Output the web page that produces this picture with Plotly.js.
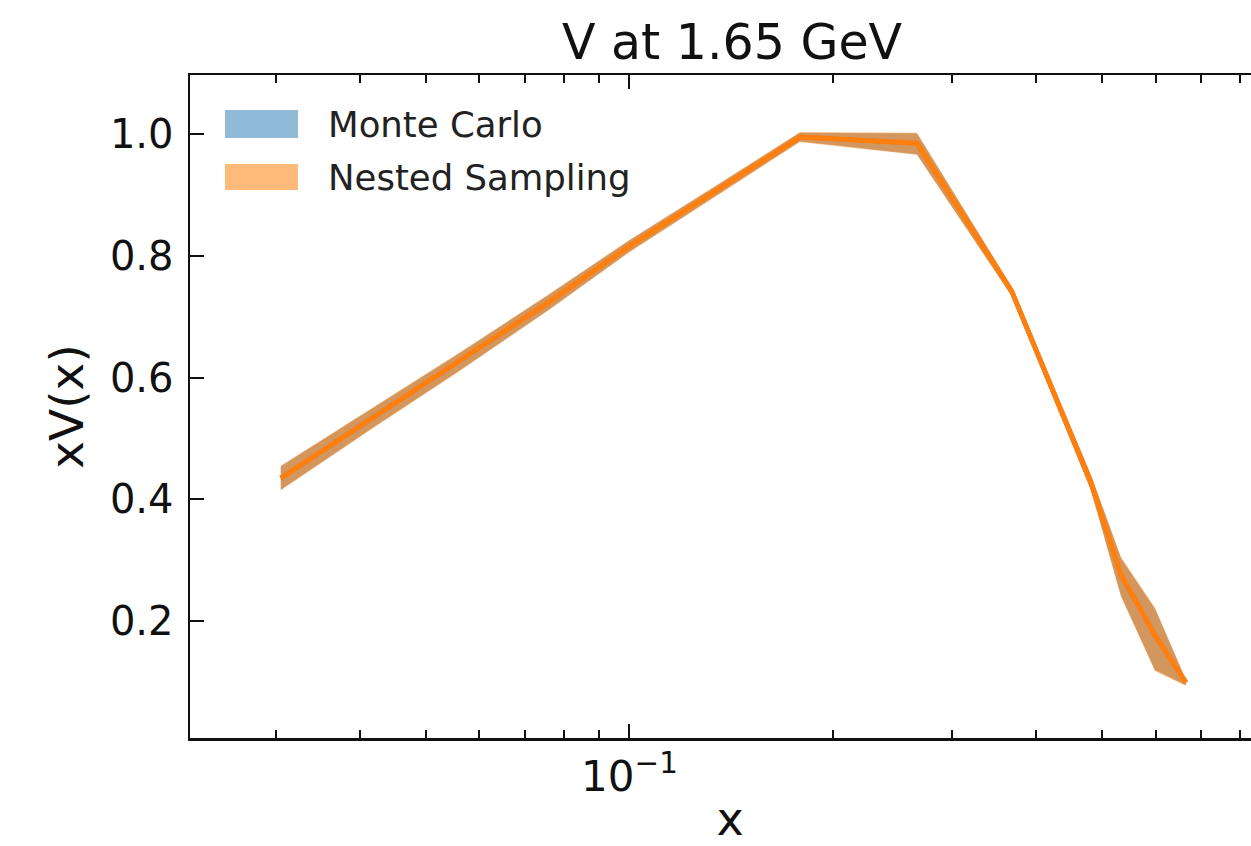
<!DOCTYPE html>
<html>
<head>
<meta charset="utf-8">
<script src="https://cdn.plot.ly/plotly-3.0.1.min.js"></script>
<style>
  html, body { margin: 0; padding: 0; overflow: hidden; background: #fff; }
  #chart { width: 1280px; height: 846px; }
</style>
</head>
<body>
<div id="chart"></div>
<script>
// ---- data ----
const xGrid = [0.0305, 0.0420, 0.0561, 0.0760, 0.1000, 0.1350, 0.1787, 0.2662, 0.3679, 0.4817, 0.5335, 0.5989, 0.6655];

const mcMean  = [0.435, 0.536, 0.626, 0.724, 0.816, 0.908, 0.995, 0.985, 0.741, 0.427, 0.275, 0.177, 0.099];
const mcLower = [0.416, 0.520, 0.612, 0.712, 0.807, 0.900, 0.988, 0.967, 0.734, 0.415, 0.242, 0.120, 0.095];
const mcUpper = [0.454, 0.552, 0.640, 0.736, 0.825, 0.916, 1.002, 1.001, 0.748, 0.439, 0.303, 0.220, 0.103];

const nsMean  = [0.435, 0.536, 0.627, 0.724, 0.816, 0.908, 0.995, 0.985, 0.741, 0.427, 0.276, 0.177, 0.099];
const nsLower = [0.415, 0.519, 0.611, 0.711, 0.806, 0.899, 0.987, 0.966, 0.733, 0.414, 0.240, 0.118, 0.094];
const nsUpper = [0.455, 0.553, 0.641, 0.737, 0.826, 0.917, 1.003, 1.002, 0.749, 0.440, 0.305, 0.222, 0.104];

const seriesNames = ["Monte Carlo", "Nested Sampling"];
const titleText = "V at 1.65 GeV";
const xTickVals = [0.1];
const xTickText = ["10<sup>\u22121</sup>"];
const xMinorVals = [0.03, 0.04, 0.05, 0.06, 0.07, 0.08, 0.09, 0.2, 0.3, 0.4, 0.5, 0.6, 0.7, 0.8];
const yTickVals = [0.2, 0.4, 0.6, 0.8, 1.0];
const yTickText = ["0.2", "0.4", "0.6", "0.8", "1.0"];

// ---- styling ----
const BLUE = "#1f77b4", ORANGE = "#ff7f0e";
const BLUE_FILL = "rgba(31,119,180,0.5)", ORANGE_FILL = "rgba(255,127,14,0.6)";
const BLUE_PATCH = "rgba(31,119,180,0.5)", ORANGE_PATCH = "rgba(255,127,14,0.55)";
const FONT = "DejaVu Sans, Liberation Sans, sans-serif";

const W = 1280, H = 846;
const L = 190, R = 10, T = 75, B = 108;
const pw = W - L - R, ph = H - T - B;
const px = (p) => (p - L) / pw;        // pixel -> paper x
const py = (p) => (H - B - p) / ph;    // pixel -> paper y

function band(lower, upper, fill) {
  return [
    {x: xGrid, y: lower, mode: "lines", line: {width: 0, color: fill}, showlegend: false, hoverinfo: "skip"},
    {x: xGrid, y: upper, mode: "lines", line: {width: 0, color: fill}, fill: "tonexty", fillcolor: fill, showlegend: false, hoverinfo: "skip"}
  ];
}

const traces = [
  ...band(mcLower, mcUpper, BLUE_FILL),
  {x: xGrid, y: mcMean, mode: "lines", line: {color: BLUE, width: 4.5}, name: seriesNames[0], showlegend: false},
  ...band(nsLower, nsUpper, ORANGE_FILL),
  {x: xGrid, y: nsMean, mode: "lines", line: {color: ORANGE, width: 5}, name: seriesNames[1], showlegend: false}
];

const layout = {
  width: W, height: H,
  margin: {l: L, r: R, t: T, b: B},
  paper_bgcolor: "#fff", plot_bgcolor: "#fff",
  font: {family: FONT, color: "#111", size: 36},
  title: {text: titleText, font: {family: FONT, size: 49, color: "#111"},
          x: 732 / W, xref: "container", xanchor: "center",
          y: 1 - 42 / H, yref: "container", yanchor: "middle"},
  xaxis: {
    type: "log",
    range: [-1.650, -0.0525],
    tickmode: "array", tickvals: xTickVals, ticktext: xTickText,
    ticks: "inside", ticklen: 14, tickwidth: 2, tickcolor: "#111",
    showline: true, linecolor: "#111", linewidth: 2.5, mirror: "ticks",
    showgrid: false, zeroline: false,
    tickfont: {family: FONT, size: 42, color: "#111"},
    minor: {tickmode: "array", tickvals: xMinorVals, ticks: "inside", ticklen: 8, tickwidth: 2, tickcolor: "#111", showgrid: false},
    title: {text: "x", font: {family: FONT, size: 46, color: "#111"}, standoff: 22}
  },
  yaxis: {
    range: [0.008, 1.097],
    tickmode: "array", tickvals: yTickVals, ticktext: yTickText,
    ticks: "inside", ticklen: 14, tickwidth: 2, tickcolor: "#111",
    showline: true, linecolor: "#111", linewidth: 2.5, mirror: "ticks",
    showgrid: false, zeroline: false,
    tickfont: {family: FONT, size: 40, color: "#111"},
    ticklabelstandoff: 6,
    title: {text: "xV(x)", font: {family: FONT, size: 47, color: "#111"}, standoff: 12}
  },
  showlegend: false,
  shapes: [
    {type: "rect", xref: "paper", yref: "paper", x0: px(225), x1: px(298), y0: py(138), y1: py(110),
     fillcolor: BLUE_PATCH, line: {width: 0}},
    {type: "rect", xref: "paper", yref: "paper", x0: px(225), x1: px(298), y0: py(190), y1: py(164),
     fillcolor: ORANGE_PATCH, line: {width: 0}}
  ],
  annotations: [
    {xref: "paper", yref: "paper", x: px(326), y: py(125), xanchor: "left", yanchor: "middle",
     text: seriesNames[0], showarrow: false, font: {family: FONT, size: 35.5, color: "#222"}},
    {xref: "paper", yref: "paper", x: px(326), y: py(177), xanchor: "left", yanchor: "middle",
     text: seriesNames[1], showarrow: false, font: {family: FONT, size: 35.5, color: "#222"}}
  ]
};

Plotly.newPlot("chart", traces, layout, {displayModeBar: false, staticPlot: true});
</script>
</body>
</html>
